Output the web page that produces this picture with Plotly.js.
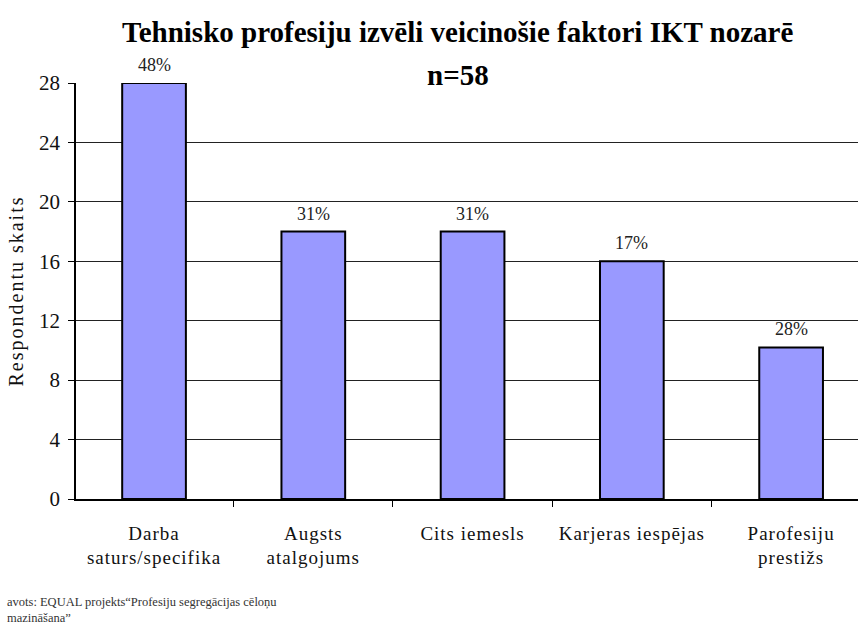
<!DOCTYPE html>
<html>
<head>
<meta charset="utf-8">
<script src="https://cdn.plot.ly/plotly-3.0.1.min.js"></script>
<style>
#chart .ytitle { letter-spacing: 2px; }
#chart .xtick text { letter-spacing: 1px; }
</style>
</head>
<body style="margin:0">
<div id="chart" style="width:858px;height:627px"></div>
<script>
const categories = ["Darba<br>saturs/specifika", "Augsts<br>atalgojums", "Cits iemesls", "Karjeras iespējas", "Parofesiju<br>prestižs"];
const values = [28, 18, 18, 16, 10.2];
const percentLabels = ["48%", "31%", "31%", "17%", "28%"];
const yTicks = [0, 4, 8, 12, 16, 20, 24, 28];

const FONT = "Liberation Serif";

const trace = {
  type: "bar",
  x: categories,
  y: values,
  width: 0.4,
  marker: {color: "#9999FF", line: {color: "#000", width: 2}},
  hoverinfo: "skip"
};

const annotations = categories.map((c, i) => ({
  x: c, y: values[i], xref: "x", yref: "y",
  text: percentLabels[i], showarrow: false,
  yanchor: "bottom", yshift: 6,
  font: {family: FONT, size: 18, color: "#222"}
}));

annotations.push({
  xref: "paper", yref: "paper", x: 0.488, y: 1, yshift: 51, xanchor: "center", yanchor: "middle",
  text: "<b>Tehnisko profesiju izvēli veicinošie faktori IKT nozarē</b>", showarrow: false,
  font: {family: FONT, size: 29, color: "#000"}
});
annotations.push({
  xref: "paper", yref: "paper", x: 0.488, y: 1, yshift: 8, xanchor: "center", yanchor: "middle",
  text: "<b>n=58</b>", showarrow: false,
  font: {family: FONT, size: 29, color: "#000"}
});
annotations.push({
  xref: "paper", yref: "paper", x: -0.0908, y: 0, yshift: -94, xanchor: "left", yanchor: "top",
  align: "left",
  text: "avots: EQUAL projekts“Profesiju segregācijas cēloņu<br>mazināšana”", showarrow: false,
  font: {family: FONT, size: 12.5, color: "#333"}
});

const layout = {
  width: 858, height: 627,
  margin: {l: 76, r: 0, t: 83, b: 128},
  paper_bgcolor: "#fff", plot_bgcolor: "#fff",
  showlegend: false,
  font: {family: FONT, color: "#111"},
  xaxis: {
    type: "category",
    range: [-0.49, 4.42],
    showline: true, linecolor: "#000", linewidth: 1.5,
    ticks: "outside", tickson: "boundaries", ticklen: 6, tickcolor: "#000",
    ticklabelstandoff: 16,
    showgrid: false,
    tickfont: {family: FONT, size: 19, color: "#111"},
    automargin: false
  },
  yaxis: {
    range: [0, 28],
    tickvals: yTicks,
    showline: true, linecolor: "#000", linewidth: 1.5,
    ticks: "outside", ticklen: 6, tickcolor: "#000",
    ticklabelstandoff: 4,
    showgrid: true, gridcolor: "#222", gridwidth: 1,
    zeroline: false,
    tickfont: {family: FONT, size: 21, color: "#111"},
    title: {text: "Respondentu skaits", font: {family: FONT, size: 20, color: "#111"}, standoff: 10},
    automargin: false
  },
  annotations: annotations
};

Plotly.newPlot("chart", [trace], layout, {displayModeBar: false});
</script>
</body>
</html>
